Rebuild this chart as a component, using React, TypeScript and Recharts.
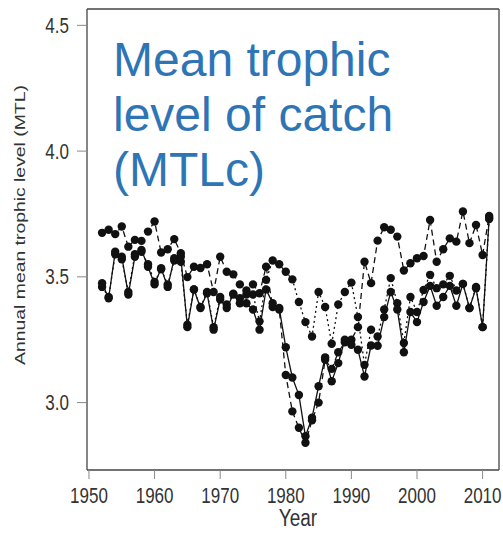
import { LineChart, Line, XAxis, YAxis } from 'recharts'

const years = [
    1952, 1953, 1954, 1955, 1956, 1957, 1958, 1959, 1960, 1961,
    1962, 1963, 1964, 1965, 1966, 1967, 1968, 1969, 1970, 1971,
    1972, 1973, 1974, 1975, 1976, 1977, 1978, 1979, 1980, 1981,
    1982, 1983, 1984, 1985, 1986, 1987, 1988, 1989, 1990, 1991,
    1992, 1993, 1994, 1995, 1996, 1997, 1998, 1999, 2000, 2001,
    2002, 2003, 2004, 2005, 2006, 2007, 2008, 2009, 2010, 2011,
]

// solid line
const solidMTL = [
    3.475, 3.415, 3.60, 3.58, 3.43, 3.58, 3.607, 3.54, 3.47, 3.534,
    3.46, 3.574, 3.58, 3.30, 3.45, 3.376, 3.435, 3.29, 3.41, 3.376,
    3.43, 3.395, 3.395, 3.37, 3.29, 3.45, 3.395, 3.376, 3.22, 3.10,
    3.03, 2.866, 2.94, 3.065, 3.18, 3.085, 3.157, 3.25, 3.23, 3.21,
    3.104, 3.227, 3.226, 3.34, 3.44, 3.37, 3.20, 3.36, 3.32, 3.40,
    3.464, 3.385, 3.42, 3.464, 3.385, 3.472, 3.376, 3.455, 3.30, 3.735,
]

// dashed line
const dashedMTL = [
    3.675, 3.687, 3.67, 3.70, 3.62, 3.647, 3.643, 3.68, 3.72, 3.597,
    3.61, 3.65, 3.594, 3.499, 3.54, 3.535, 3.55, 3.44, 3.58, 3.52,
    3.51, 3.47, 3.446, 3.47, 3.435, 3.54, 3.38, 3.37, 3.11, 2.965,
    2.90, 2.84, 2.93, 3.0, 3.17, 3.134, 3.2, 3.24, 3.25, 3.30,
    3.56, 3.475, 3.644, 3.697, 3.687, 3.66, 3.525, 3.554, 3.574, 3.583,
    3.726, 3.56, 3.61, 3.653, 3.64, 3.76, 3.634, 3.706, 3.587, 3.742,
]

// dotted line
const dottedMTL = [
    3.46, 3.42, 3.59, 3.57, 3.44, 3.59, 3.60, 3.55, 3.48, 3.53,
    3.47, 3.565, 3.56, 3.31, 3.45, 3.38, 3.44, 3.30, 3.42, 3.39,
    3.433, 3.415, 3.43, 3.43, 3.323, 3.488, 3.565, 3.55, 3.52, 3.49,
    3.40, 3.32, 3.263, 3.44, 3.38, 3.234, 3.39, 3.44, 3.477, 3.34,
    3.15, 3.29, 3.263, 3.37, 3.495, 3.395, 3.237, 3.42, 3.36, 3.448,
    3.508, 3.455, 3.47, 3.504, 3.446, 3.472, 3.376, 3.46, 3.30, 3.73,
]

const xTicks = [1950, 1960, 1970, 1980, 1990, 2000, 2010]
const yTicks = [3.0, 3.5, 4.0, 4.5]

const X_MIN = 1949.7
const X_MAX = 2012.5
const Y_MIN = 2.732
const Y_MAX = 4.565

const font = "'Liberation Sans', Arial, sans-serif"
const frame = { stroke: '#444', strokeWidth: 1.3 }

const data = years.map((year, i) => ({
    year,
    solid: solidMTL[i],
    dashed: dashedMTL[i],
    dotted: dottedMTL[i],
}))

const XTick = ({ x, y, payload }: any) => (
    <g transform={`translate(${x},${y})`}>
        <text transform="scale(1,1.25)" textAnchor="middle" dy="0.71em" fill="#333" fontSize={17} fontFamily={font}>
            {payload.value}
        </text>
    </g>
)

const YTick = ({ x, y, payload }: any) => (
    <g transform={`translate(${x},${y})`}>
        <text transform="scale(1,1.25)" textAnchor="end" dy="0.355em" fill="#333" fontSize={17} fontFamily={font}>
            {Number(payload.value).toFixed(1)}
        </text>
    </g>
)

const dotStyle = { r: 4.2, fill: '#111', stroke: 'none' }

export default function App() {
    return (
        <div style={{ position: 'fixed', left: 0, top: 0, width: 503, height: 533, overflow: 'hidden', background: '#fff' }}>
            <LineChart width={503} height={533} data={data} margin={{ top: 8, right: 3, bottom: 0, left: 0 }}>
                <XAxis
                    dataKey="year"
                    type="number"
                    domain={[X_MIN, X_MAX]}
                    ticks={xTicks}
                    allowDataOverflow
                    height={63}
                    axisLine={frame}
                    tickSize={9}
                    tickMargin={9}
                    tickLine={{ stroke: '#888' }}
                    tick={<XTick />}
                    label={() => (
                        <text transform="translate(298,526) scale(1,1.25)" textAnchor="middle" fill="#333" fontSize={19} fontFamily={font}>
                            Year
                        </text>
                    )}
                />
                <XAxis
                    xAxisId="top"
                    orientation="top"
                    dataKey="year"
                    type="number"
                    domain={[X_MIN, X_MAX]}
                    allowDataOverflow
                    height={1}
                    axisLine={frame}
                    tick={false}
                    tickLine={false}
                />
                <YAxis
                    type="number"
                    domain={[Y_MIN, Y_MAX]}
                    ticks={yTicks}
                    allowDataOverflow
                    width={87}
                    axisLine={frame}
                    tickSize={10}
                    tickMargin={8}
                    tickLine={{ stroke: '#888' }}
                    tick={<YTick />}
                    label={() => (
                        <text transform="translate(24.5,225) scale(1,1.25) rotate(-90)" textAnchor="middle" fill="#333" fontSize={15.5} fontFamily={font}>
                            Annual mean trophic level (MTL)
                        </text>
                    )}
                />
                <YAxis
                    yAxisId="right"
                    orientation="right"
                    type="number"
                    domain={[Y_MIN, Y_MAX]}
                    allowDataOverflow
                    width={1}
                    axisLine={frame}
                    tick={false}
                    tickLine={false}
                />
                <Line dataKey="dotted" stroke="#111" strokeWidth={1.3} strokeDasharray="2 3" dot={dotStyle} isAnimationActive={false} />
                <Line dataKey="dashed" stroke="#111" strokeWidth={1.3} strokeDasharray="6 4" dot={dotStyle} isAnimationActive={false} />
                <Line dataKey="solid" stroke="#111" strokeWidth={1.3} dot={dotStyle} isAnimationActive={false} />
            </LineChart>
            <div
                style={{
                    position: 'absolute',
                    left: 113,
                    top: 31.6,
                    fontFamily: font,
                    fontSize: 48,
                    lineHeight: '55px',
                    color: '#2e75b6',
                    pointerEvents: 'none',
                }}
            >
                Mean trophic<br />
                level of catch<br />
                (MTLc)
            </div>
        </div>
    )
}
